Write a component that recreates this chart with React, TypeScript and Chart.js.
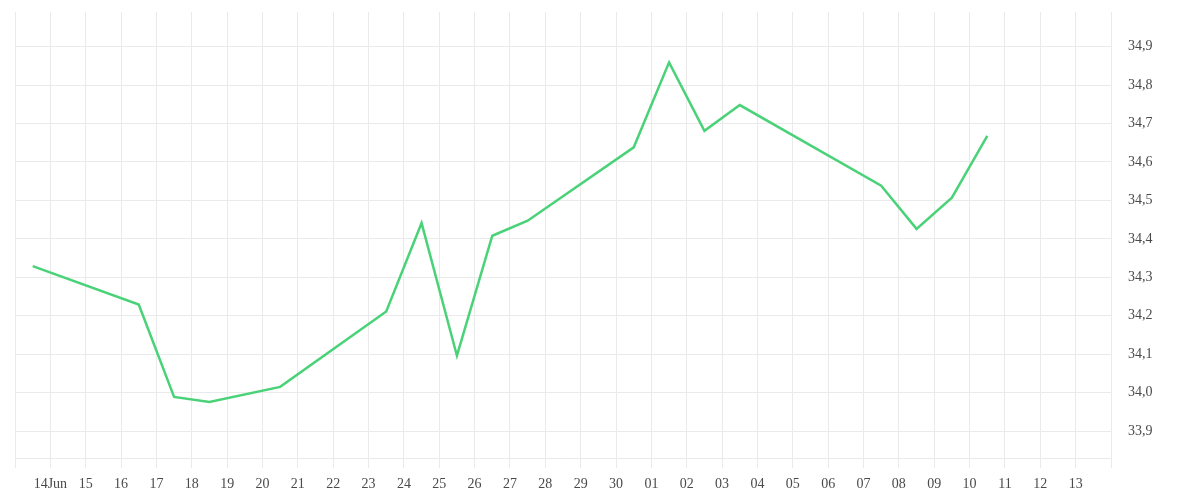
import React, { useEffect, useRef } from "react";
import { Chart, registerables } from "chart.js";

Chart.register(...registerables);

// Day offsets from 13 Jun (0 = 13 Jun 00:00), each point at midday
const pointDays = [0.5, 3.5, 4.5, 5.5, 7.5, 10.5, 11.5, 12.5, 13.5, 14.5, 17.5, 18.5, 19.5, 20.5, 24.5, 25.5, 26.5, 27.5];
const seriesValues = [34.329, 34.229, 33.989, 33.976, 34.015, 34.211, 34.441, 34.096, 34.408, 34.447, 34.638, 34.859, 34.681, 34.748, 34.538, 34.426, 34.507, 34.668];

// Tick labels for day offsets 0..31 (13 Jun .. 14 Jul)
const tickLabels = [
  "", "14Jun", "15", "16", "17", "18", "19", "20", "21", "22", "23", "24", "25", "26", "27", "28", "29", "30",
  "01", "02", "03", "04", "05", "06", "07", "08", "09", "10", "11", "12", "13", "",
];

const yMin = 33.83;
const yMax = 34.99;

export default function App() {
  const ref = useRef<HTMLCanvasElement | null>(null);

  useEffect(() => {
    if (!ref.current) return;
    const grid = "rgba(234,234,234,1)";
    const font = { family: "'Liberation Serif', serif", size: 14 };
    const chart = new Chart(ref.current, {
      type: "line",
      data: {
        datasets: [
          {
            data: pointDays.map((d, i) => ({ x: d, y: seriesValues[i] })),
            borderColor: "#4ad278",
            borderWidth: 2.5,
            pointRadius: 0,
            tension: 0,
            fill: false,
          },
        ],
      },
      options: {
        animation: false,
        responsive: true,
        maintainAspectRatio: false,
        layout: { padding: { top: 4, left: 7, right: 0, bottom: 0 } },
        plugins: { legend: { display: false }, tooltip: { enabled: false } },
        scales: {
          x: {
            type: "linear",
            min: 0,
            max: tickLabels.length - 1,
            afterBuildTicks: (scale: any) => {
              scale.ticks = tickLabels.map((_, i) => ({ value: i }));
            },
            afterFit: (scale: any) => {
              scale.paddingLeft = 0;
              scale.paddingRight = 0;
              scale.height = 34;
            },
            ticks: {
              autoSkip: false,
              maxRotation: 0,
              padding: 8,
              color: "#4a4a4a",
              font,
              callback: (v: any) => tickLabels[Math.round(Number(v))] ?? "",
            },
            grid: { color: grid, tickLength: 10, drawTicks: true },
            border: { color: grid },
          },
          y: {
            position: "right",
            min: yMin,
            max: yMax,
            afterBuildTicks: (scale: any) => {
              const t: any[] = [];
              for (let v = Math.ceil(yMin * 10); v <= Math.floor(yMax * 10); v++) t.push({ value: v / 10 });
              scale.ticks = t;
            },
            afterFit: (scale: any) => {
              scale.paddingTop = 0;
              scale.paddingBottom = 0;
              scale.width = 81;
            },
            ticks: {
              padding: 17,
              color: "#4a4a4a",
              font,
              callback: (v: any) => Number(v).toFixed(1).replace(".", ","),
            },
            grid: { color: grid, drawTicks: false },
            border: { color: grid },
          },
        },
      },
    });
    return () => chart.destroy();
  }, []);

  return (
    <div style={{ width: "100%", height: 484, position: "relative" }}>
      <canvas ref={ref} />
    </div>
  );
}
